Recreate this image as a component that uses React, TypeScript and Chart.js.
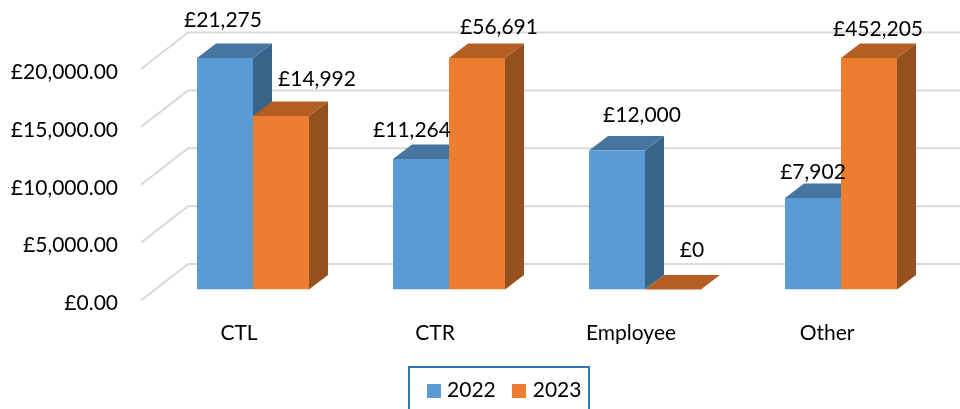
import React, { useEffect, useRef } from "react";
import { Chart, registerables } from "chart.js";

Chart.register(...registerables);

const categories = ["CTL", "CTR", "Employee", "Other"];
const values2022 = [21275, 11264, 12000, 7902];
const values2023 = [14992, 56691, 0, 452205];
const seriesNames = ["2022", "2023"];
const yTicks = [0, 5000, 10000, 15000, 20000];

const FONT = "Lato";
const FONT_SIZE = 21;
const shades = [
  { front: "#5B9BD5", side: "#3A6488", top: "#4675A0" },
  { front: "#ED7D31", side: "#94501D", top: "#B35E22" },
];
// manual data-label nudges as placed in the source chart (px from top-centre of each bar)
const labelNudges = [
  [[-2, -38], [-9, -29], [25, -35], [0, -26]],
  [[36, -37], [22, -31], [19, -39], [9, -29]],
];
const money = (v: number) => "£" + v.toLocaleString("en-GB");
const DX = 19, DY = 14.5;

const swatch = (color: string) => {
  const c = document.createElement("canvas");
  c.width = 14;
  c.height = 14;
  const g = c.getContext("2d")!;
  g.fillStyle = color;
  g.fillRect(0, 0, 14, 14);
  return c;
};

const depthPlugin = {
  id: "depth",
  afterLayout(chart: any) {
    const lg = chart.legend;
    lg.left += 36.5;
    lg.right += 36.5;
    lg.top += 2;
    lg.bottom += 2;
  },
  beforeDatasetsDraw(chart: any) {
    const { ctx, chartArea, scales } = chart;
    const y = scales.y;
    ctx.save();
    ctx.strokeStyle = "#D9D9D9";
    ctx.lineWidth = 2;
    for (const t of yTicks) {
      const p = y.getPixelForValue(t);
      ctx.beginPath();
      ctx.moveTo(chartArea.left - 14, p + 11);
      ctx.lineTo(chartArea.left + 33, p - 25.5);
      ctx.lineTo(chart.width + 10, p - 25.5);
      ctx.stroke();
    }
    chart.data.datasets.forEach((_: any, di: number) => {
      const c = shades[di];
      chart.getDatasetMeta(di).data.forEach((bar: any) => {
        const half = bar.width / 2;
        const l = bar.x - half, r = bar.x + half;
        const top = Math.max(bar.y, chartArea.top);
        const base = y.getPixelForValue(0);
        if (base - top > 0.5) {
          ctx.fillStyle = c.side;
          ctx.beginPath();
          ctx.moveTo(r, top);
          ctx.lineTo(r + DX, top - DY);
          ctx.lineTo(r + DX, base - DY);
          ctx.lineTo(r, base);
          ctx.closePath();
          ctx.fill();
        }
        ctx.fillStyle = c.top;
        ctx.beginPath();
        ctx.moveTo(l, top);
        ctx.lineTo(l + DX, top - DY);
        ctx.lineTo(r + DX, top - DY);
        ctx.lineTo(r, top);
        ctx.closePath();
        ctx.fill();
      });
    });
    ctx.restore();
  },
  afterDraw(chart: any) {
    const { ctx, chartArea } = chart;
    ctx.save();
    ctx.fillStyle = "#000";
    ctx.font = `${FONT_SIZE}px ${FONT}`;
    ctx.textAlign = "center";
    ctx.textBaseline = "middle";
    chart.data.datasets.forEach((ds: any, di: number) => {
      chart.getDatasetMeta(di).data.forEach((bar: any, i: number) => {
        const top = Math.max(bar.y, chartArea.top);
        const [nx, ny] = labelNudges[di][i];
        ctx.fillText(money(ds.data[i]), bar.x + nx, top + ny);
      });
    });
    ctx.strokeStyle = "#2E75B6";
    ctx.lineWidth = 2;
    ctx.beginPath();
    ctx.moveTo(409, 412);
    ctx.lineTo(409, 367);
    ctx.lineTo(589, 367);
    ctx.lineTo(589, 412);
    ctx.stroke();
    ctx.restore();
  },
};

export default function App() {
  const ref = useRef<HTMLCanvasElement>(null);
  useEffect(() => {
    const baseLabels = (Chart.defaults.plugins.legend.labels as any).generateLabels;
    const chart = new Chart(ref.current!, {
      type: "bar",
      data: {
        labels: categories,
        datasets: [values2022, values2023].map((data, i) => ({
          label: seriesNames[i],
          data,
          backgroundColor: shades[i].front,
          categoryPercentage: 112 / 196,
          barPercentage: 1,
        })),
      },
      options: {
        animation: false,
        responsive: false,
        layout: { padding: { top: 58, right: 21, left: 0, bottom: 0 } },
        scales: {
          x: {
            grid: { display: false },
            border: { display: false },
            afterFit: (s: any) => { s.height = 68; },
            ticks: {
              color: "#000",
              font: { family: FONT, size: FONT_SIZE },
              padding: 23,
              labelOffset: -14,
              maxRotation: 0,
            },
          },
          y: {
            min: 0,
            max: 20000,
            grid: { display: false, drawTicks: false },
            border: { display: false },
            afterFit: (s: any) => { s.width = 155; },
            afterBuildTicks: (s: any) => { s.ticks = yTicks.map((value) => ({ value })); },
            ticks: {
              color: "#000",
              font: { family: FONT, size: FONT_SIZE },
              padding: 37,
              labelOffset: 14,
              callback: (v: any) => "£" + Number(v).toLocaleString("en-GB", { minimumFractionDigits: 2, maximumFractionDigits: 2 }),
            },
          },
        },
        plugins: {
          legend: {
            position: "bottom",
            labels: {
              color: "#000",
              font: { family: FONT, size: FONT_SIZE },
              usePointStyle: true,
              pointStyleWidth: 6,
              padding: 20.5,
              generateLabels: (c: any) =>
                baseLabels(c).map((item: any, i: number) => ({
                  ...item,
                  pointStyle: swatch(shades[i].front),
                })),
            },
          },
          tooltip: { enabled: false },
        },
      },
      plugins: [depthPlugin],
    } as any);
    return () => chart.destroy();
  }, []);
  return (
    <canvas
      ref={ref}
      width={960}
      height={409}
      style={{ position: "absolute", left: 0, top: 0, display: "block" }}
    />
  );
}
